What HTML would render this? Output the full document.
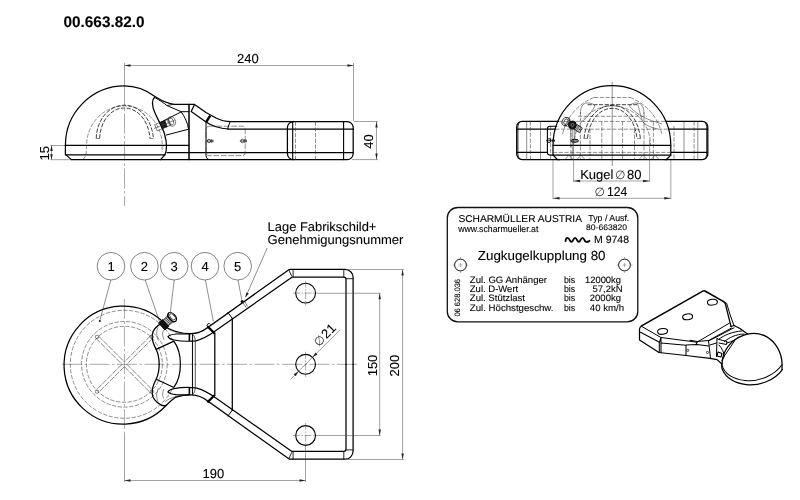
<!DOCTYPE html>
<html lang="de">
<head>
<meta charset="utf-8">
<title>00.663.82.0</title>
<style>
html,body{margin:0;padding:0;background:#fff;}
body{width:800px;height:500px;overflow:hidden;font-family:"Liberation Sans",sans-serif;}
svg{display:block;position:absolute;left:0;top:0;will-change:transform;}
text{font-family:"Liberation Sans",sans-serif;fill:#000;stroke:#000;stroke-width:.1;text-rendering:geometricPrecision;}
.k{stroke:#000;stroke-width:1.25;fill:none;stroke-linecap:round;stroke-linejoin:round;}
.m{stroke:#111;stroke-width:0.9;fill:none;stroke-linecap:round;stroke-linejoin:round;}
.t{stroke:#333;stroke-width:0.55;fill:none;}
.d{stroke:#333;stroke-width:0.55;fill:none;stroke-dasharray:4.2 1.5;}
.c{stroke:#555;stroke-width:0.5;fill:none;stroke-dasharray:20 2.5 2.5 2.5;}
.dim{stroke:#444;stroke-width:0.5;fill:none;}
.ar{fill:#222;stroke:none;}
.w{fill:#fff;}
text.dia{font-family:"DejaVu Sans","Liberation Sans",sans-serif;fill:#333;stroke:none;}
</style>
</head>
<body>
<svg width="800" height="500" viewBox="0 0 800 500">
<rect x="0" y="0" width="800" height="500" fill="#fff"/>

<!-- TITLE -->
<text x="63.5" y="26.8" font-size="15.35" font-weight="bold">00.663.82.0</text>

<!-- ================= SIDE VIEW (top-left) ================= -->
<g id="side">
<!-- dimension 240 -->
<path class="dim" d="M124.5 65.5H353.5M353.5 63V121M124.5 63V86"/>
<path class="ar" d="M124.5 65.5l6 -1.2v2.4zM353.5 65.5l-6 -1.2v2.4z"/>
<text x="247.8" y="62.6" font-size="13" text-anchor="middle">240</text>
<!-- centre line -->
<path class="c" d="M124.5 86V206"/>
<!-- dimension 15 -->
<path class="dim" d="M50.5 145.5H66M50.5 159.7H72M51.5 145.5V159.7"/>
<path class="ar" d="M51.5 145.5l-1.3 5.5h2.6zM51.5 159.7l-1.3 -5.5h2.6z"/>
<text transform="translate(48.8,153.3) rotate(-90)" font-size="13" text-anchor="middle">15</text>
<!-- dimension 40 -->
<path class="dim" d="M354 121.5H378M352 159.6H378M376.5 121.5V159.6"/>
<path class="ar" d="M376.5 121.5l-1.2 6h2.4zM376.5 159.6l-1.2 -6h2.4z"/>
<text transform="translate(373.4,141.4) rotate(-90)" font-size="13" text-anchor="middle">40</text>

<!-- hidden ball outline -->
<path class="d" d="M83 159.6L86 155.4L86.6 145.4A37.8 39.5 0 0 1 162.2 145.4V152"/>

<!-- hidden groove (double dashed arc) -->
<path class="d" style="stroke-width:.8;stroke:#111" d="M96.2 138.5C97 118 110 105.2 124.4 105.2C139 105.2 151.5 118 153.5 138.5"/>
<path class="d" style="stroke-width:.8;stroke:#111" d="M99.6 138.5C100.5 120 111.5 108 124.4 108C137.5 108 148.5 120 150 138.5"/>
<path class="t" d="M96.2 138.5H99.6M150 138.5H153.5"/>

<!-- dome outer -->
<path class="k" d="M71.4 159.6L65.4 154.4V145.4A59 59.4 0 0 1 124.4 86C136 86 146 90 155 96.6C161 100.6 167 103.6 174 104.4H194.5L206 112.5L216 118C221 120.6 226 121.6 231 121.6H347.2A6 6 0 0 1 353.2 127.6V153.6A6 6 0 0 1 347.2 159.6H71.4"/>
<!-- base lines -->
<path class="k" d="M65.4 145.4H188.8M65.4 154.8H165M167 152.5H353.2"/>
<path class="k" d="M228 129H353.6"/>
<!-- dome right opening (tongue) -->
<path class="k" d="M154.6 97.2C151.5 100 152 106 155 113C158 120 162.5 127 164.5 134C166.8 142 167.2 150 164.8 155L160.5 159.6"/>
<path class="k" style="stroke-width:1" d="M154.6 97.4C160 100.4 164.4 103.4 167.2 105.7L181.2 111.7H188.8"/>
<path class="m" d="M167.4 105.6C169.5 104.9 171.4 104.6 174 104.4"/>
<!-- pocket -->
<path class="k" style="stroke-width:1" d="M181.2 111.9L160.4 122.4M181.2 111.9C185 117 187.6 123 188.6 129.2L166.4 135"/>
<!-- chamfers under dome -->
<path class="t" d="M160.5 159.6L165 154.8"/>
<!-- vertical thick line -->
<path class="k" style="stroke-width:1.5" d="M189 104.5V159.6"/>
<!-- neck -->
<path class="k" d="M194.5 104.5L191.2 111.5L206 122C212 126 218 128.4 228 129"/>
<path class="k" style="stroke-width:2.4;stroke-linecap:butt" d="M210.2 115.6L206.2 122"/>
<path class="k" style="stroke-width:1" d="M206 122V155.5C206 158 207.5 159.6 209.5 159.6"/>
<!-- dashed label rectangle -->
<rect class="d" style="stroke-dasharray:5.8 1.6" x="206" y="126.2" width="39.2" height="29.4" rx="3" ry="3"/>
<path class="k" style="stroke-width:1" d="M230 121.8L227.6 128.8"/>
<!-- screws -->
<g class="t" style="stroke:#111;stroke-width:.7">
<circle cx="209" cy="141" r="1.7"/><path d="M206.4 141H213.6M211.4 139.2V142.8M212.8 139.6V142.4"/>
<circle cx="242.4" cy="141" r="1.7"/><path d="M239.8 141H247M244.8 139.2V142.8M246.2 139.6V142.4"/>
</g>
<!-- grease nipple -->
<g transform="translate(165.2,124) rotate(-22)">
<rect x="-4.6" y="-3.3" width="5.4" height="6.6" fill="#222" stroke="#000" stroke-width=".6"/>
<rect class="t" style="stroke:#111" x="0.8" y="-3.2" width="4" height="6.4"/>
<ellipse class="t" style="stroke:#111" cx="6.4" cy="0" rx="2.4" ry="3.6"/>
<ellipse class="t" cx="7" cy="0" rx="3.8" ry="5"/>
<path class="t" d="M-12 0H10M-10 -3.4H-5M-10 3.4H-5M-10 -3.4V3.4"/>
</g>
<!-- right block -->
<path class="k" d="M293.4 121.6A6 6 0 0 0 287.4 127.6V153.6A6 6 0 0 0 293.4 159.6"/>
<path class="k" style="stroke-width:1.1" d="M292.7 121.6V159.6M343.6 121.6V159.6"/>
<path class="d" d="M295.5 121.6V159.6M315.5 121.6V159.6"/>
</g>

<!-- ================= FRONT VIEW (top-right) ================= -->
<g id="front">
<!-- centre line -->
<path class="t" d="M612.2 82V166"/>
<!-- plate ends -->
<path class="k" d="M558.4 121.4H522.2A5.5 5.5 0 0 0 516.7 126.9V154.1A5.5 5.5 0 0 0 522.2 159.6H560"/>
<path class="k" d="M666.2 121.4H702.3A5.5 5.5 0 0 1 707.8 126.9V154.1A5.5 5.5 0 0 1 702.3 159.6H665"/>
<path class="k" d="M517 129.1H555.4M517 152.3H547.4M669.4 129.1H707.6M671.4 152.3H707.6"/>
<path class="m" d="M519.6 122.4C518 124 517.9 126 517.9 128V153C517.9 155 518 157 519.6 158.6M705 122.4C706.5 124 706.7 126 706.7 128V153C706.7 155 706.5 157 705 158.6"/>
<!-- plate verticals -->
<path class="t" d="M526.7 121.4V159.6M540.5 121.4V159.6M697.8 121.4V159.6M684 121.4V159.6"/>
<path class="d" d="M530.4 121.4V159.6M694.1 121.4V159.6M550.6 126V159.6M674 126V159.6"/>
<!-- hidden horizontals inside dome -->
<path class="d" d="M558.4 121.4H666.2M555.4 129.2H669.4"/>
<path class="d" d="M594 97.5H630.2M578 116.3H647"/><path class="d" style="stroke:#111;stroke-width:.8" d="M587.6 104.7H637"/>
<path class="d" d="M571 121.4V159.6M580.4 112V159.6M601.8 121.4V159.6M622.6 121.4V159.6M644 112V159.6M653.4 121.4V159.6M590 129V159.6M634.5 129V159.6"/>
<!-- hidden arcs -->
<path class="d" d="M562.6 134A51 51 0 0 1 594 97.5M630.2 97.5A51 51 0 0 1 661.8 134"/>
<path class="d" d="M573.8 145.4A38.4 39.6 0 0 1 650.6 145.4"/>
<path class="d" style="stroke-width:.8;stroke:#111" d="M584 138.5C586 118 598 105.4 612.2 105.4C626.4 105.4 638.4 118 640.4 138.5"/>
<path class="d" style="stroke-width:.8;stroke:#111" d="M587.4 138.5C589.4 120 599.6 108.4 612.2 108.4C624.8 108.4 635 120 637 138.5"/>
<path class="t" d="M584 138.5H587.4M637 138.5H640.4"/>
<!-- inner contour (handle-like shape) -->
<path class="t" d="M580.4 114C580.4 107 582.6 103.4 587 103C591 102.8 593.6 104 595 106M644 114C644 107 641.8 103.4 637.4 103C633.4 102.8 630.8 104 629.4 106"/>
<path class="t" d="M595 106C592 111 588 117 583 121M629.4 106C634 112 644 119 656 122L662 124"/>
<path class="t" d="M637.4 103C640 112 641 118 643 122C647 126 652 128 658 129"/>
<!-- label box left -->
<path class="k" style="stroke-width:1.1" d="M556.6 126.3H549.9A2.5 2.5 0 0 0 547.4 128.8V152.6A2.5 2.5 0 0 0 549.9 155.1H553"/>
<!-- dome -->
<path class="k" d="M557.4 159.5L553 155.1V145.4A58.9 59.8 0 0 1 670.8 145.4V155.1L666.4 159.5"/>
<path class="k" d="M553 145.4H670.8M553 155.1H670.8M558 159.5H666"/><path class="d" d="M553 152.4H670.8"/>
<path class="t" d="M565 159.5L569 155.1L573 159.5M577 159.5L581 155.1L585 159.5M639 159.5L643 155.1L647 159.5M651 159.5L655 155.1L659 159.5"/>
<!-- screws -->
<g class="t" style="stroke:#111;stroke-width:.7">
<circle cx="549" cy="140.6" r="1.9" style="stroke-width:1.1"/><path d="M546 140.6H555M552.4 139V142.2M554.4 139.4V141.8"/>
<ellipse cx="574.8" cy="140.8" rx="3.8" ry="1.5" style="stroke-width:1"/><path style="stroke-width:.9" d="M573 139.6V142M575 139.4V142.2M577 139.6V142"/>
</g>
<!-- grease nipple -->
<g transform="translate(572.4,125)">
<circle r="4" fill="#1a1a1a" stroke="#000" stroke-width=".8"/>
<circle r="1.5" fill="none" stroke="#bbb" stroke-width=".5"/>
<g transform="rotate(-152)"><ellipse class="t" style="stroke:#111;stroke-width:.8" cx="7.6" cy="0" rx="3.4" ry="4.4"/><ellipse class="t" style="stroke:#111;stroke-width:.7" cx="7.2" cy="0" rx="2" ry="3"/><path class="t" style="stroke:#111;stroke-width:.7" d="M3.6 -3.4L7 -4.4M3.6 3.4L7 4.4"/></g>
<g transform="rotate(32)"><rect class="t" style="stroke:#111;stroke-width:.7" x="3.6" y="-2.8" width="6.4" height="5.6"/><path class="t" style="stroke:#111" d="M5.2 -2.8V2.8M6.8 -2.8V2.8M8.4 -2.8V2.8"/></g>
<path class="t" style="stroke:#222" d="M0.4 4V30M-1.6 4V22M2.4 4V14"/>
</g>
<!-- dimension Kugel 80 -->
<path class="dim" d="M573.6 140V182M649.6 140V182M573.6 181H649.6"/>
<path class="ar" d="M573.6 181l6.5 -1.3v2.6zM649.6 181l-6.5 -1.3v2.6z"/>
<text x="580.2" y="179" font-size="13">Kugel</text>
<text class="dia" x="620.2" y="178.9" font-size="12" text-anchor="middle">∅</text>
<text x="627" y="179" font-size="13">80</text>
<!-- dimension 124 -->
<path class="dim" d="M553 160V199.2M670.8 160V199.2M553 198.3H670.8"/>
<path class="ar" d="M553 198.3l6.5 -1.3v2.6zM670.8 198.3l-6.5 -1.3v2.6z"/>
<text class="dia" x="599.8" y="196.3" font-size="12" text-anchor="middle">∅</text>
<text x="607" y="196.4" font-size="13" textLength="20.3" lengthAdjust="spacingAndGlyphs">124</text>
</g>

<!-- ================= TYPE PLATE ================= -->
<g id="plate">
<rect x="447.3" y="207.5" width="190.5" height="114.4" rx="10.5" ry="10.5" fill="#fff" stroke="#111" stroke-width="1.3"/>
<g fill="#000" style="stroke-width:.2">
<text x="458.4" y="221.8" font-size="9.9" textLength="123.6" lengthAdjust="spacingAndGlyphs">SCHARMÜLLER AUSTRIA</text>
<text x="458.2" y="231.5" font-size="9.3" textLength="80.2" lengthAdjust="spacingAndGlyphs">www.scharmueller.at</text>
<text x="588.3" y="221.4" font-size="8.8" textLength="41" lengthAdjust="spacingAndGlyphs">Typ / Ausf.</text>
<text x="586" y="230.2" font-size="8" textLength="41" lengthAdjust="spacingAndGlyphs">80-663820</text>
<path d="M565.6 241C565.8 238.6 566.6 237.9 567.7 237.9C569.5 237.9 569.6 241.9 571.4 241.9C573.2 241.9 573.3 237.9 575.1 237.9C576.9 237.9 577 241.9 578.8 241.9C580.6 241.9 580.7 237.9 582.5 237.9C584.3 237.9 584.4 241.9 586.2 241.9C587.6 241.9 588.6 241.5 589.4 240.9" fill="none" stroke="#000" stroke-width="1.85" stroke-linecap="round"/>
<text x="594" y="242.5" font-size="10.5" textLength="35" lengthAdjust="spacingAndGlyphs">M 9748</text>
<text x="477.8" y="259.6" font-size="13.1" textLength="127.7" lengthAdjust="spacingAndGlyphs">Zugkugelkupplung 80</text>
</g>
<g class="t" style="stroke:#111;stroke-width:1"><circle cx="460.5" cy="265" r="5.9"/><circle cx="624.5" cy="265" r="5.9"/></g>
<path class="t" style="stroke:#777" d="M458.5 265H462.5M460.5 263V267M452.5 265H455M466 265H468.5M460.5 257V259.5M460.5 270.5V273M622.5 265H626.5M624.5 263V267M616.5 265H619M630 265H632.5M624.5 257V259.5M624.5 270.5V273"/>
<text transform="translate(460,316.6) rotate(-90)" font-size="7.8" textLength="37.6" lengthAdjust="spacingAndGlyphs">06 628.036</text>
<g font-size="9.4" fill="#000" style="stroke-width:.2">
<text x="469.8" y="282.8" textLength="77.2" lengthAdjust="spacingAndGlyphs">Zul. GG Anhänger</text>
<text x="469.8" y="291.9" textLength="48.4" lengthAdjust="spacingAndGlyphs">Zul. D-Wert</text>
<text x="469.8" y="301.3" textLength="55.2" lengthAdjust="spacingAndGlyphs">Zul. Stützlast</text>
<text x="469.8" y="310.5" textLength="83.7" lengthAdjust="spacingAndGlyphs">Zul. Höchstgeschw.</text>
<text x="564" y="282.8" textLength="11.2" lengthAdjust="spacingAndGlyphs">bis</text>
<text x="564" y="291.9" textLength="11.2" lengthAdjust="spacingAndGlyphs">bis</text>
<text x="564" y="301.3" textLength="11.2" lengthAdjust="spacingAndGlyphs">bis</text>
<text x="564" y="310.5" textLength="11.2" lengthAdjust="spacingAndGlyphs">bis</text>
<text x="585" y="282.8" textLength="36" lengthAdjust="spacingAndGlyphs">12000kg</text>
<text x="592.5" y="291.9" textLength="30" lengthAdjust="spacingAndGlyphs">57,2kN</text>
<text x="589.8" y="301.3" textLength="31.2" lengthAdjust="spacingAndGlyphs">2000kg</text>
<text x="589.8" y="310.5" textLength="34.2" lengthAdjust="spacingAndGlyphs">40 km/h</text>
</g>
</g>

<!-- ================= ISO VIEW ================= -->
<g id="iso">
<!-- top face -->
<path class="k" style="stroke-width:1.6" d="M642 325.6L702.8 291.1Q704 290.4 705.4 291.2L723.2 301.4"/>
<path class="k" d="M723.2 301.4Q724.8 302.4 725.4 304L731 326.5M642 325.6Q639.8 326.8 639.5 329V340L659 352.5L686 355.5L710 358.3L717 359.6L722 364"/>
<path class="k" style="stroke-width:1" d="M642 326.6L661 337.5L697 342.2L729 323.4M723.2 301.4L726.6 303.2L730.5 316L734 325.5"/>
<path class="k" style="stroke-width:1.05" d="M640.5 332.2L659.5 342.2L661 337.5M659.3 342.2V352.5M661 337.5V352.8"/>
<path class="k" style="stroke-width:1.05" d="M661 343L686 345.3M686 345V355.5M686 345L697 344.6L708.6 346M697 342.2L696 345M690 340.3L697 341.5L708.5 340.5"/>
<path class="k" style="stroke-width:1" d="M708.5 340.5L710.5 358M717 338.5L716.5 356.5M709.5 340.4L715.5 337.5"/>
<circle cx="687.8" cy="350.4" r="1.1" class="t" style="stroke:#111;stroke-width:.7"/><circle cx="707.5" cy="352.4" r="1.1" class="t" style="stroke:#111;stroke-width:.7"/>
<!-- holes -->
<g class="k" style="stroke-width:1.05">
<ellipse cx="662.6" cy="331.4" rx="5" ry="2.9" transform="rotate(-7 662.6 331.4)"/>
<ellipse cx="687.6" cy="316.8" rx="5" ry="2.9" transform="rotate(-7 687.6 316.8)"/>
<ellipse cx="712.4" cy="302.2" rx="5" ry="2.9" transform="rotate(-7 712.4 302.2)"/>
</g>
<!-- neck -->
<path class="k" d="M731 326.5L734 325.5L740 328.5L747.5 334"/>
<path class="k" style="stroke-width:1" d="M709.5 340L731.5 328M715.5 337.5L734 327.8"/>
<path class="k" style="stroke-width:1" d="M719 339C724 335.4 732 331.6 742 331M724.5 341.5C729 337.6 736 334.2 744 334M727 343C732 341.6 736 339.6 738 337.5"/>
<path class="k" style="stroke-width:1" d="M717 338.5L719 339.5L727 341.5L726.5 344.5L719 343M710 345L716.5 343"/>
<path class="k" style="stroke-width:1" d="M719 345C722 348.4 724 352 724 356C724 358 723 359.4 722 360.4M734.5 341L723 358"/>
<path class="k" style="stroke-width:1.05" d="M718 352L722 353.5L721 357L717 356z"/>
<!-- dome -->
<path class="k" d="M722 364C722.4 354 727.8 344.6 736.4 338.8C745 333 756.6 331.4 766.4 336.6C775.6 341.6 781.4 352.4 782 362.8V369.4"/>
<path class="k" d="M722 364C721.6 366 721.8 368 722.4 369.8C726 377.6 734.6 383.2 746.4 384.6C759.4 386 774.4 380.6 782.4 369.6"/>
<path class="k" style="stroke-width:1.05" d="M722 365.4C724.6 373.4 733 379.2 745.2 380.6C759 382 774.4 375.6 782 364.8"/>
</g>

<!-- ================= PLAN VIEW (bottom-left) ================= -->
<g id="plan">
<defs>
<g id="half">
<!-- arm outer edge + plate -->
<path class="k" d="M176 331.5C181 333 186 333.7 191 333.7C198 333.7 203.4 331 208 327.3L288.8 269.8Q289.2 269.4 290 269.4H345A8.1 8.1 0 0 1 353.1 277.5V364.3"/>
<path class="k" d="M346 364.3V279.5Q346 277.2 344 277.2H291.9L214.8 331.3C209 335.6 204 338.6 196 340.8C190 341.4 180 341.2 174 340C171 339.4 168.6 338 168 336.5C169.6 335 172 334.4 176 334C181 333.7 186 333.8 190 334"/>
<path class="m" d="M346 278.7H353.1M293.1 269.4V277.2M288.9 270L291.6 276M343.8 269.4V277.2"/>
<path class="t" d="M207 328.6L228 313.6M165 326.8C170 331 178 333.2 186 333.9"/>
<path class="k" d="M214.8 333.4V364.3M232.3 318.4V364.3"/>
<path class="k" style="stroke-width:1.6;stroke-linecap:butt" d="M189.4 333.9V341"/>
<path class="m" style="stroke-width:1.1" d="M192.5 334V364.3"/><path class="m" style="stroke-width:.7" d="M192.5 334C194.4 335.4 195.3 338 195.3 342V364.3"/><path class="k" style="stroke-width:1" d="M228 312.7L232.3 318.4"/>
<path class="k" style="stroke-width:2.2;stroke-linecap:butt" d="M207.4 326.2L214.8 333.6"/>
<!-- socket curves -->
<path class="k" d="M161.4 323.4C156 326.4 152.6 330 152.2 335C151.8 340 154 345.4 156.2 349.4C158.2 353.6 159.2 358.6 159.2 364.3"/>
<path class="k" d="M156.2 349.4L173.4 341.4M174 341.4C178.4 347.4 180.4 355.4 180.4 364.3"/>
<path class="t" d="M158 327.4C156 331 156.4 336 158.4 340.6M163.6 330C162 333 162.4 336.6 164 339.6"/>
</g>
</defs>
<!-- centre lines -->
<path class="c" d="M62 364.3H357"/>
<path class="c" d="M124.4 299V434"/>
<path class="dim" d="M124.5 434V482M305.5 446V482"/>
<!-- hidden circles -->
<g class="d" style="stroke-dasharray:4.2 1.6"><path d="M173.3 341.5A54 54 0 1 0 173.3 387.1"/><circle cx="124.4" cy="364.3" r="42.8"/><circle cx="124.4" cy="364.3" r="38"/></g>
<!-- grease slots -->
<g transform="translate(124.4,364.3) rotate(45)" class="d" style="stroke-dasharray:6 1.2"><path d="M-38.6 -1.7H-1.7M1.7 -1.7H38.6M-38.6 1.7H-1.7M1.7 1.7H38.6M-1.7 -38.6V-1.7M-1.7 1.7V38.6M1.7 -38.6V-1.7M1.7 1.7V38.6"/></g>
<g class="t"><circle cx="97" cy="336.9" r="1.7"/><circle cx="97" cy="391.7" r="1.7"/><circle cx="151.8" cy="336.9" r="1.7"/><circle cx="151.8" cy="391.7" r="1.7"/></g>
<!-- ball outer circle -->
<path class="k" d="M162.4 321.2A59 59 0 1 0 166.3 405.3"/>
<use href="#half"/>
<use href="#half" transform="matrix(1 0 0 -1 0 728.6)"/>
<path class="k" d="M165 326.8C168.6 328.8 172 330.3 176 331.5"/>
<path class="k" d="M166.3 405.3C169.5 402.2 172.5 399.4 176 397.1M161.4 405.2C163 405.8 164.8 405.8 166.3 405.3"/>
<!-- holes -->
<g class="k" style="stroke-width:1.1"><circle cx="305.6" cy="293.1" r="9.9"/><circle cx="305.6" cy="364.3" r="9.9"/><circle cx="305.6" cy="435.5" r="9.9"/></g>
<path class="c" style="stroke-dasharray:7 1.5 1.5 1.5" d="M305.6 280.6V305.6M305.6 351.8V376.8M305.6 423V446M293.1 293.1H318M293.1 435.5H318"/>
<!-- grease nipple -->
<g transform="translate(163.2,325.2) rotate(-42)">
<path d="M-2 -4.6H3.4V4.6H-2z" fill="#111" stroke="#000" stroke-width=".8"/>
<path class="m" style="stroke-width:.7" d="M3.4 -3.8H9.4V3.8H3.4M4.6 -3.8V3.8M5.8 -3.8V3.8M7 -3.8V3.8M8.2 -3.8V3.8"/>
<path class="k" style="stroke-width:1.1" d="M9.4 -4.2L12 -5.4M9.4 4.2L12 5.4M9.4 -4.2V4.2"/>
<ellipse class="k" style="stroke-width:1.1" cx="12.2" cy="0" rx="3.2" ry="5.4" fill="#fff"/>
<ellipse class="m" style="stroke-width:.7" cx="12.6" cy="0" rx="2" ry="3.8"/>
</g>
<!-- mark 4 bump & mark 5 -->
<path class="k" style="stroke-width:.9" d="M207.4 326.4A1.7 1.7 0 0 1 210.4 324.2"/>
<circle cx="242.2" cy="301.6" r="1.6" fill="#111"/>
<path class="t" style="stroke:#111" d="M242.6 302.2L246.2 307.6M244.2 301.2L247.8 306.6"/>
<!-- balloons -->
<g class="t" style="stroke:#333;stroke-width:.6" fill="#fff">
<circle cx="111" cy="266.2" r="13.8"/><circle cx="144.4" cy="266.2" r="13.8"/><circle cx="174.2" cy="266.2" r="13.8"/><circle cx="205" cy="266.2" r="13.8"/><circle cx="237.7" cy="266.2" r="13.8"/>
</g>
<g font-size="13" text-anchor="middle"><text x="111" y="270.8">1</text><text x="144.4" y="270.8">2</text><text x="174.2" y="270.8">3</text><text x="205" y="270.8">4</text><text x="237.7" y="270.8">5</text></g>
<path class="t" d="M110.8 280L99.9 320.4M145.2 280L159.8 322.4M174.2 280L170.2 313.4M205.4 280L213.4 321.6M238 280L242 301M267.2 248L245.6 297"/>
<circle cx="99.8" cy="320.9" r="1" fill="#111"/>
<path class="ar" d="M245.4 297.6l.8 -5.2l2.6 1.2z"/>
<!-- note text -->
<text x="267.6" y="231.3" font-size="12.8" textLength="108.8" lengthAdjust="spacingAndGlyphs">Lage Fabrikschild+</text>
<text x="267.6" y="244.1" font-size="12.8" textLength="135.8" lengthAdjust="spacingAndGlyphs">Genehmigungsnummer</text>
<!-- diameter 21 -->
<g transform="translate(305.6,364.3) rotate(-45)">
<path class="dim" d="M-21.5 0H48.6"/>
<path class="ar" d="M-9.9 0l-5.5 -1.4v2.8zM9.9 0l5.5 -1.4v2.8z"/>
<text class="dia" x="26.6" y="-2.7" font-size="12" text-anchor="middle">∅</text>
<text x="32.6" y="-3" font-size="13">21</text>
</g>
<!-- dim 150 -->
<path class="dim" d="M318 293.3H380.6M318 435.5H380.6M379.7 293.3V435.5"/>
<path class="ar" d="M379.7 293.3l-1.2 6h2.4zM379.7 435.5l-1.2 -6h2.4z"/>
<text transform="translate(376.6,365.5) rotate(-90)" font-size="13" text-anchor="middle">150</text>
<!-- dim 200 -->
<path class="dim" d="M346 269.5H403.7M346 459.5H403.7M402.6 269.5V459.5"/>
<path class="ar" d="M402.6 269.5l-1.2 6h2.4zM402.6 459.5l-1.2 -6h2.4z"/>
<text transform="translate(399.4,365.6) rotate(-90)" font-size="13" text-anchor="middle">200</text>
<!-- dim 190 -->
<path class="dim" d="M124.5 480.5H305.5"/>
<path class="ar" d="M124.5 480.5l6 -1.2v2.4zM305.5 480.5l-6 -1.2v2.4z"/>
<text x="213.4" y="477.6" font-size="13" text-anchor="middle">190</text>
</g>

</svg>
</body>
</html>
